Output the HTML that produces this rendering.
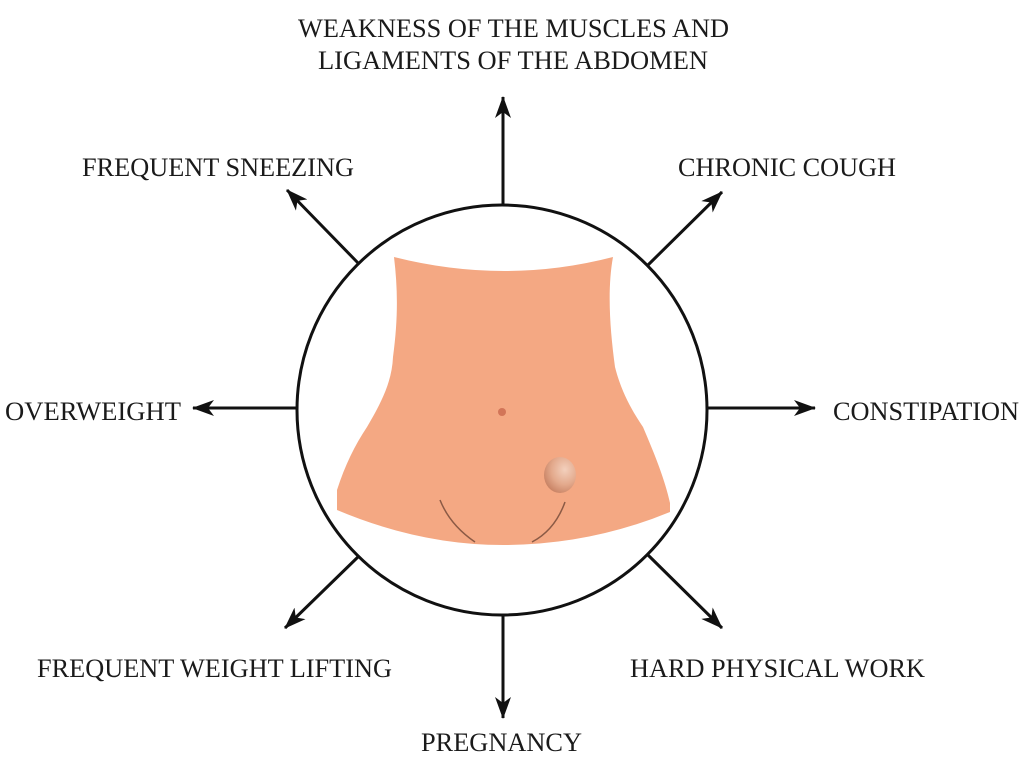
<!DOCTYPE html>
<html><head><meta charset="utf-8"><style>
html,body{margin:0;padding:0;background:#fff;width:1024px;height:761px;overflow:hidden}
text{font-family:"Liberation Serif",serif;font-size:26px;fill:#1a1a1a}
</style></head><body>
<svg width="1024" height="761" viewBox="0 0 1024 761" xmlns="http://www.w3.org/2000/svg">
<defs>
<marker id="ah" viewBox="0 0 22 16" refX="21" refY="8" markerWidth="22" markerHeight="16" markerUnits="userSpaceOnUse" orient="auto">
<path d="M0,0 L22,8 L0,16 L6,8 Z" fill="#111"/>
</marker>
<radialGradient id="hg" cx="0.65" cy="0.35" r="0.7">
<stop offset="0" stop-color="#f3d0bd"/><stop offset="0.6" stop-color="#e3a98c"/><stop offset="1" stop-color="#c98466"/>
</radialGradient>
</defs>
<g stroke="#111" stroke-width="3" fill="none">
<line x1="503" y1="205" x2="503" y2="97" marker-end="url(#ah)"/>
<line x1="360" y1="265" x2="287" y2="190" marker-end="url(#ah)"/>
<line x1="648" y1="265" x2="722" y2="192" marker-end="url(#ah)"/>
<line x1="298" y1="408" x2="193" y2="408" marker-end="url(#ah)"/>
<line x1="708" y1="408" x2="815" y2="408" marker-end="url(#ah)"/>
<line x1="360" y1="555" x2="285" y2="628" marker-end="url(#ah)"/>
<line x1="648" y1="555" x2="722" y2="628" marker-end="url(#ah)"/>
<line x1="503" y1="615" x2="503" y2="718" marker-end="url(#ah)"/>
</g>
<circle cx="502" cy="410" r="205" fill="#fff" stroke="#111" stroke-width="3"/>
<path d="M394,257 Q505,285 613,257 C607,290 610,330 615,367 C622,395 635,415 643,427 C655,455 665,480 670,503 L670,512 Q590,545 503,545 Q420,545 337,510 L337,490 C345,465 355,445 367,427 C383,400 392,380 393,357 C398,320 398,290 394,257 Z" fill="#f4a883"/>
<circle cx="502" cy="412" r="4" fill="#d27558"/>
<ellipse cx="560" cy="475" rx="16" ry="18" fill="url(#hg)"/>
<path d="M440,500 Q450,525 475,542" stroke="#8b5a45" stroke-width="1.5" fill="none"/>
<path d="M565,502 Q555,530 532,542" stroke="#8b5a45" stroke-width="1.5" fill="none"/>
<text x="298" y="37" textLength="431" lengthAdjust="spacingAndGlyphs">WEAKNESS OF THE MUSCLES AND</text>
<text x="318" y="69" textLength="390" lengthAdjust="spacingAndGlyphs">LIGAMENTS OF THE ABDOMEN</text>
<text x="82" y="176" textLength="272" lengthAdjust="spacingAndGlyphs">FREQUENT SNEEZING</text>
<text x="678" y="176" textLength="218" lengthAdjust="spacingAndGlyphs">CHRONIC COUGH</text>
<text x="5" y="420" textLength="176" lengthAdjust="spacingAndGlyphs">OVERWEIGHT</text>
<text x="833" y="420" textLength="186" lengthAdjust="spacingAndGlyphs">CONSTIPATION</text>
<text x="37" y="677" textLength="355" lengthAdjust="spacingAndGlyphs">FREQUENT WEIGHT LIFTING</text>
<text x="630" y="677" textLength="295" lengthAdjust="spacingAndGlyphs">HARD PHYSICAL WORK</text>
<text x="421" y="751" textLength="161" lengthAdjust="spacingAndGlyphs">PREGNANCY</text>
</svg>
</body></html>
